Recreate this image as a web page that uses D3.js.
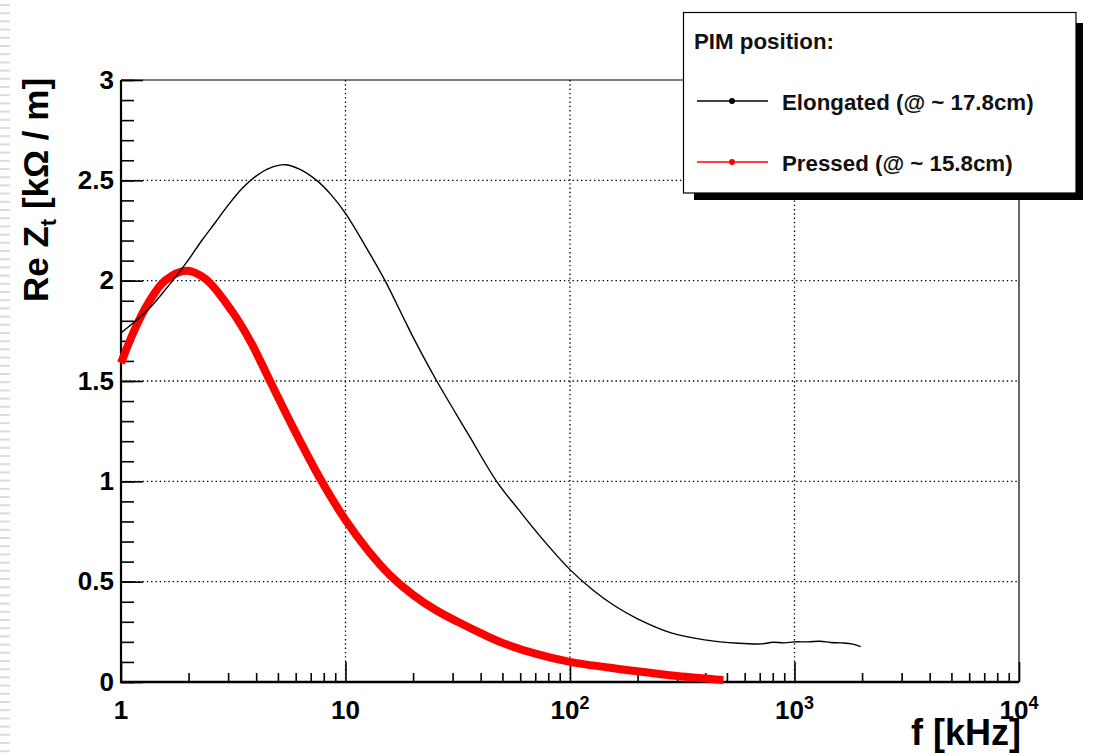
<!DOCTYPE html>
<html>
<head>
<meta charset="utf-8">
<script src="https://cdn.jsdelivr.net/npm/d3@7/dist/d3.min.js"></script>
<style>
    body { margin: 0; background: #fff; }
    svg { display: block; font-family: "Liberation Sans", Arial, Helvetica, sans-serif; font-weight: bold; }
</style>
</head>
<body>
<svg id="chart" width="1118" height="756"></svg>
<script>
// Donnees (f en kHz, Re Zt en kOhm/m)
const elongatedFreq = [1, 1.15, 1.32, 1.51, 1.74, 2.0, 2.29, 2.63, 3.02, 3.47, 3.98, 4.57, 5.37, 6.27, 7.44, 8.6, 10, 12.3, 15, 18.4, 20.4, 25.5, 35, 47.1, 58.9, 73.5, 100, 126, 158, 200, 282, 398, 562, 720, 800, 900, 1000, 1150, 1300, 1450, 1622, 1800, 1972];
const elongatedRe   = [1.74, 1.795, 1.855, 1.93, 2.015, 2.105, 2.2, 2.29, 2.38, 2.46, 2.52, 2.56, 2.578, 2.555, 2.5, 2.43, 2.335, 2.17, 2.0, 1.80, 1.70, 1.5, 1.24, 1.0, 0.86, 0.727, 0.56, 0.46, 0.38, 0.315, 0.245, 0.21, 0.193, 0.19, 0.198, 0.195, 0.2, 0.2, 0.203, 0.197, 0.195, 0.19, 0.176];

const pressedFreq = [1, 1.154, 1.32, 1.57, 1.96, 2.37, 3.11, 3.76, 4.61, 5.86, 7.83, 10, 12.6, 15.85, 19.95, 25.1, 31.6, 39.8, 50.1, 70.8, 100, 191, 300, 482];
const pressedRe   = [1.59, 1.76, 1.887, 2.0, 2.05, 2.01, 1.85, 1.70, 1.5, 1.265, 1.0, 0.807, 0.655, 0.53, 0.435, 0.36, 0.3, 0.245, 0.195, 0.14, 0.10, 0.056, 0.03, 0.01];

const yTicks = [0, 0.5, 1, 1.5, 2, 2.5, 3];
const yTickLabels = ["0", "0.5", "1", "1.5", "2", "2.5", "3"];
const xTicks = [1, 10, 100, 1000, 10000];
const xTickBase = ["1", "10", "10", "10", "10"];
const xTickSup = ["", "", "2", "3", "4"];

const legendTitle = "PIM position:";
const legendLabels = ["Elongated (@ ~ 17.8cm)", "Pressed (@ ~ 15.8cm)"];
const legendColors = ["#000000", "#ff0000"];

document.addEventListener("DOMContentLoaded", () => {
    const margin = { top: 80, right: 99, bottom: 74, left: 121 };
    const W = 1118, H = 756;
    const width = W - margin.left - margin.right;
    const height = H - margin.top - margin.bottom;

    const svg = d3.select("#chart");

    // bandes grises a gauche (decor de la diapo)
    svg.append("g").selectAll("rect")
        .data(d3.range(4, H, 8.2))
        .enter()
        .append("rect")
        .attr("x", 0)
        .attr("y", d => d)
        .attr("width", 10)
        .attr("height", 2)
        .attr("fill", "#dcdcdc");

    const x = d3.scaleLog().domain([1, 10000]).range([0, width]);
    const y = d3.scaleLinear().domain([0, 3]).range([height, 0]);

    const g = svg.append("g").attr("transform", `translate(${margin.left},${margin.top})`);

    // Grille pointillee
    const grid = g.append("g")
        .attr("stroke", "#000")
        .attr("stroke-width", 1.3)
        .attr("stroke-dasharray", "1.4,2.9");
    grid.selectAll(".gx")
        .data(xTicks.slice(1, -1))
        .enter()
        .append("line")
        .attr("x1", d => x(d)).attr("x2", d => x(d))
        .attr("y1", 0).attr("y2", height);
    grid.selectAll(".gy")
        .data(yTicks.slice(1, -1))
        .enter()
        .append("line")
        .attr("x1", 0).attr("x2", width)
        .attr("y1", d => y(d)).attr("y2", d => y(d));

    // Axe Y
    const yMinor = d3.range(0, 3.001, 0.1).map(v => +v.toFixed(1));
    g.append("g")
        .call(d3.axisLeft(y).tickValues(yMinor).tickSize(-13).tickFormat(""))
        .call(a => a.select(".domain").remove())
        .call(a => a.selectAll("line").attr("stroke-width", 1.6));
    g.append("g")
        .call(d3.axisLeft(y).tickValues(yTicks).tickSize(-22).tickPadding(7)
            .tickFormat((d, i) => yTickLabels[i]))
        .call(a => a.select(".domain").remove())
        .call(a => a.selectAll("line").attr("stroke-width", 1.6))
        .call(a => a.selectAll("text")
            .attr("font-size", 26)
            .attr("font-family", "'Liberation Sans', Arial, sans-serif")
            .attr("font-weight", "bold")
            .attr("fill", "#000"));

    // Axe X
    const xMinor = [];
    for (let dec = 1; dec < 10000; dec *= 10) {
        for (let k = 2; k <= 9; k++) xMinor.push(k * dec);
    }
    g.append("g")
        .attr("transform", `translate(0,${height})`)
        .call(d3.axisBottom(x).tickValues(xMinor).tickSize(-9).tickFormat(""))
        .call(a => a.select(".domain").remove())
        .call(a => a.selectAll("line").attr("stroke-width", 1.6));
    g.append("g")
        .attr("transform", `translate(0,${height})`)
        .call(d3.axisBottom(x).tickValues(xTicks).tickSize(-20).tickFormat(""))
        .call(a => a.select(".domain").remove())
        .call(a => a.selectAll("line").attr("stroke-width", 1.6));

    const xLabels = g.append("g").attr("transform", `translate(0,${height + 37})`);
    xTicks.forEach((t, i) => {
        const txt = xLabels.append("text")
            .attr("x", x(t))
            .attr("text-anchor", "middle")
            .attr("font-size", 26)
            .attr("fill", "#000");
        txt.append("tspan").text(xTickBase[i]);
        if (xTickSup[i]) {
            txt.append("tspan")
                .attr("font-size", 18)
                .attr("dy", -10)
                .text(xTickSup[i]);
        }
    });

    // Cadre
    g.append("line").attr("x1", 0).attr("x2", width).attr("y1", 0).attr("y2", 0)
        .attr("stroke", "#000").attr("stroke-width", 1.2);
    g.append("line").attr("x1", width).attr("x2", width).attr("y1", 0).attr("y2", height)
        .attr("stroke", "#000").attr("stroke-width", 1.2);
    g.append("line").attr("x1", 0).attr("x2", 0).attr("y1", 0).attr("y2", height + 1)
        .attr("stroke", "#000").attr("stroke-width", 2.2);
    g.append("line").attr("x1", -1).attr("x2", width).attr("y1", height).attr("y2", height)
        .attr("stroke", "#000").attr("stroke-width", 2.6);

    // Courbes
    const line = d3.line()
        .x(d => x(d[0]))
        .y(d => y(d[1]))
        .curve(d3.curveCatmullRom.alpha(0.5));

    const pressed = d3.zip(pressedFreq, pressedRe);
    const elongated = d3.zip(elongatedFreq, elongatedRe);

    g.append("path")
        .datum(pressed)
        .attr("d", line)
        .attr("fill", "none")
        .attr("stroke", "#ff0000")
        .attr("stroke-width", 8);

    g.append("path")
        .datum(elongated)
        .attr("d", line)
        .attr("fill", "none")
        .attr("stroke", "#000")
        .attr("stroke-width", 1.4);

    // Titres des axes
    svg.append("text")
        .attr("transform", "translate(48,302) rotate(-90)")
        .attr("font-size", 35)
        .attr("fill", "#000")
        .call(t => {
            t.append("tspan").text("Re Z");
            t.append("tspan").attr("font-size", 22).attr("dy", 8).text("t");
            t.append("tspan").attr("dy", -8).text(" [k\u03A9 / m]");
        });

    svg.append("text")
        .attr("x", 1021)
        .attr("y", 745)
        .attr("text-anchor", "end")
        .attr("font-size", 36)
        .attr("fill", "#000")
        .text("f [kHz]");

    // Legende
    const lg = svg.append("g");
    lg.append("rect").attr("x", 694).attr("y", 23).attr("width", 389).attr("height", 177).attr("fill", "#000");
    lg.append("rect").attr("x", 683.5).attr("y", 12.5).attr("width", 392.5).attr("height", 180.5)
        .attr("fill", "#fff").attr("stroke", "#000").attr("stroke-width", 1.2);
    lg.append("text").attr("x", 694).attr("y", 49).attr("font-size", 22.3).attr("fill", "#111").text(legendTitle);

    legendLabels.forEach((lab, i) => {
        const ly = 101 + i * 61;
        lg.append("line").attr("x1", 697).attr("x2", 768).attr("y1", ly).attr("y2", ly)
            .attr("stroke", legendColors[i]).attr("stroke-width", 1.6);
        lg.append("circle").attr("cx", 732).attr("cy", ly).attr("r", 3).attr("fill", legendColors[i]);
        lg.append("text").attr("x", 782).attr("y", ly + 9).attr("font-size", 22.3).attr("fill", "#111").text(lab);
    });
});
</script>
</body>
</html>
